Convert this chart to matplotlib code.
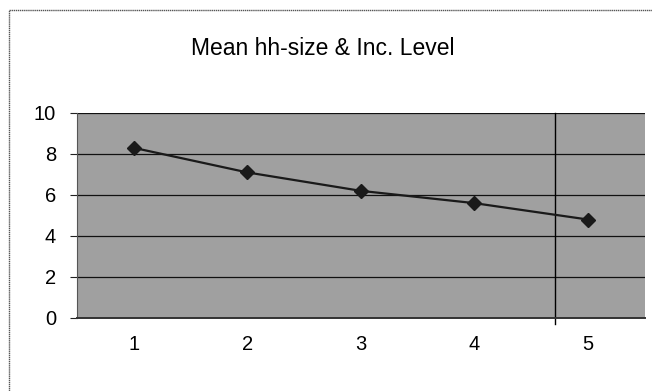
import matplotlib.pyplot as plt
from matplotlib.lines import Line2D

plt.rcParams['font.family'] = ['Liberation Sans', 'DejaVu Sans']

# income level vs mean household size
levels = ['1', '2', '3', '4', '5']
hh_size = [8.3, 7.1, 6.2, 5.6, 4.8]
y_ticks = [0, 2, 4, 6, 8, 10]

fig = plt.figure(figsize=(6.52, 3.91), dpi=100)
ax = fig.add_axes([0.118, 0.187, 0.871, 0.524])
ax.set_facecolor('#a0a0a0')

x = range(1, len(levels) + 1)
ax.plot(x, hh_size, color='#1a1a1a', lw=1.6, marker='D', ms=7,
        mfc='#1a1a1a', mec='#1a1a1a', zorder=3)

ax.set_xlim(0.5, len(levels) + 0.5)
ax.set_ylim(0, 10)
ax.set_yticks(y_ticks)
ax.set_xticks(list(x))
ax.set_xticklabels(levels)
ax.yaxis.grid(True, color='#111111', lw=0.9)
ax.set_axisbelow(True)

ax.tick_params(axis='y', length=5, width=0.8, labelsize=14.5, pad=10, color='#222222')
ax.tick_params(axis='x', length=0, labelsize=14.5, pad=12)
for s in ['top', 'right']:
    ax.spines[s].set_visible(False)
ax.spines['left'].set_color('#555555')
ax.spines['bottom'].set_color('#333333')
ax.spines['bottom'].set_linewidth(1.4)

# stray vertical rule across the plot area
ax.axvline(4.71, ymin=-0.03, ymax=1, color='black', lw=1.0, clip_on=False)

fig.text(0.495, 0.877, 'Mean hh-size & Inc. Level', ha='center', va='center', fontsize=16.5)

# chart frame
fig.add_artist(Line2D([0.014, 0.014], [0.0, 0.975], color='#555555', lw=1.0, ls=(0, (1, 0.5))))
fig.add_artist(Line2D([0.014, 1.0], [0.975, 0.975], color='#555555', lw=1.0, ls=(0, (1, 0.5))))

fig.savefig('out.png', dpi=100)
